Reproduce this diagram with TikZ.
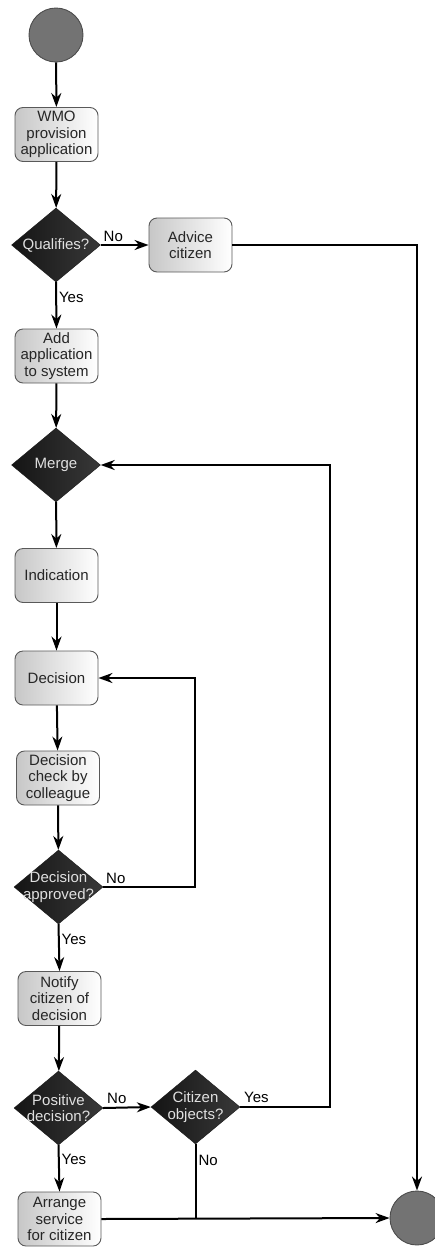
\documentclass[tikz,border=0pt]{standalone}
\usepackage{fontspec}
\setmainfont{Liberation Sans}
\usetikzlibrary{shapes.geometric,arrows.meta}
\newcommand\dtxt[1]{\makebox[0pt]{#1}}

\begin{document}
\begin{tikzpicture}[x=1pt, y=-1pt, font=\fontsize{15}{16.7}\selectfont,
  action/.style={rectangle, rounded corners=8pt, draw=black!65, line width=0.9pt, left color=black!22, right color=white, text=black!85, align=center, minimum width=83pt, minimum height=54pt, inner sep=0pt},
  choice/.style={diamond, draw=black!90, left color=black!92, right color=black!78, text=black!12, align=center, minimum width=89pt, minimum height=74pt, inner sep=0pt},
  state/.style={circle, draw=black!70, fill=black!55, line width=0.9pt, minimum size=54pt, inner sep=0pt},
  flow/.style={line width=2pt, -{Stealth[length=14pt, width=10pt, inset=4.5pt]}},
  link/.style={line width=2pt},
  tag/.style={inner sep=2pt, text=black}]
\useasboundingbox (0,0) rectangle (435,1248);
% nodes
\node [state] (start) at (56,35) {};
\node [action] (wmo) at (56.5,134.5) {WMO\\provision\\application};
\node [choice] (qual) at (56,245) {\dtxt{Qualifies?}};
\node [action] (advice) at (190.5,245) {Advice\\citizen};
\node [action] (add) at (56.5,356) {Add\\application\\to system};
\node [choice] (merge) at (56,465) {\dtxt{Merge}};
\node [action] (indication) at (56.5,575.5) {Indication};
\node [action] (decision) at (56.5,678) {Decision};
\node [action] (check) at (58,778) {Decision\\check by\\colleague};
\node [choice] (approved) at (58.5,887) {\dtxt{Decision}\\\dtxt{approved?}};
\node [action] (notify) at (59.5,998.5) {Notify\\citizen of\\decision};
\node [choice] (positive) at (58.5,1108) {\dtxt{Positive}\\\dtxt{decision?}};
\node [choice] (objects) at (195.5,1107) {\dtxt{Citizen}\\\dtxt{objects?}};
\node [action] (arrange) at (59.5,1219) {Arrange\\service\\for citizen};
\node [state] (end) at (417,1218) {};
% connectors
\draw [flow] (start) -- (wmo);
\draw [flow] (wmo) -- (qual);
\draw [flow] (qual.east) -- node [tag, anchor=south west, pos=0] {No} (advice.west);
\draw [flow] (qual.south) -- node [tag, anchor=north west, pos=0.15] {Yes} (add.north);
\draw [flow] (advice.east) -| (end.north);
\draw [flow] (add) -- (merge);
\draw [flow] (merge) -- (indication);
\draw [flow] (indication) -- (decision);
\draw [flow] (decision) -- (check);
\draw [flow] (check) -- (approved);
\draw [flow] (approved.east) -- node [tag, anchor=south west, pos=0] {No} ++(92,0) |- (decision.east);
\draw [flow] (approved.south) -- node [tag, anchor=north west, pos=0.15] {Yes} (notify.north);
\draw [flow] (notify) -- (positive);
\draw [flow] (positive.east) -- node [tag, anchor=south west, pos=0, inner sep=3pt] {No} (objects.west);
\draw [flow] (positive.south) -- node [tag, anchor=north west, pos=0.12] {Yes} (arrange.north);
\draw [flow] (objects.east) -- node [tag, anchor=south west, pos=0, inner sep=3pt] {Yes} ++(90,0) |- (merge.east);
\draw [link] (objects.south) -- node [tag, anchor=north west, pos=0.1] {No} (objects.south |- arrange.east);
\draw [flow] (arrange.east) -- (end.west);
\end{tikzpicture}
\end{document}
